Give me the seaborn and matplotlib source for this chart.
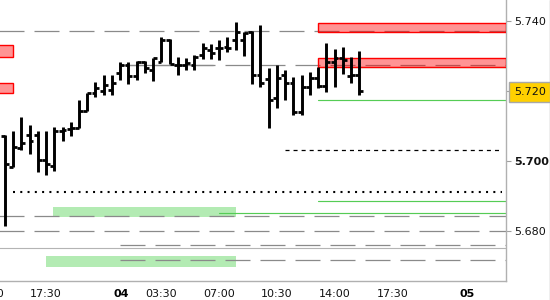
import matplotlib
matplotlib.use("Agg")
import matplotlib.pyplot as plt
import seaborn as sns
import pandas as pd
from matplotlib.patches import Rectangle
from matplotlib.lines import Line2D

# ---- data: half-hour bar slots (0 = 17:30 on the 3rd) ----
slots = list(range(-5, 39))
opens = [5.7071, 5.6983, 5.7036, 5.7074, 5.7074, 5.7003, 5.6985, 5.7086, 5.7091, 5.7094,
         5.7144, 5.7194, 5.7200, 5.7203, 5.7251, 5.7275, 5.7244, 5.7284, 5.7260, 5.7284,
         5.7346, 5.7275, 5.7275, 5.7275, 5.7303, 5.7318, 5.7323, 5.7327, 5.7346, 5.7346,
         5.7369, 5.7246, 5.7235, 5.7180, 5.7246, 5.7222, 5.7141, 5.7213, 5.7238, 5.7215,
         5.7284, 5.7296, 5.7243, 5.7246]
highs = [5.7074, 5.7086, 5.7125, 5.7103, 5.7086, 5.7086, 5.7098, 5.7096, 5.7112, 5.7175,
         5.7195, 5.7227, 5.7246, 5.7246, 5.7284, 5.7284, 5.7286, 5.7286, 5.7296, 5.7354,
         5.7348, 5.7299, 5.7295, 5.7303, 5.7337, 5.7335, 5.7346, 5.7356, 5.7398, 5.7369,
         5.7372, 5.7389, 5.7265, 5.7275, 5.7260, 5.7240, 5.7246, 5.7255, 5.7270, 5.7337,
         5.7321, 5.7326, 5.7299, 5.7315]
lows = [5.6814, 5.6982, 5.7031, 5.7020, 5.6969, 5.6960, 5.6971, 5.7058, 5.7071, 5.7093,
        5.7144, 5.7184, 5.7189, 5.7189, 5.7232, 5.7220, 5.7232, 5.7251, 5.7230, 5.7284,
        5.7278, 5.7246, 5.7260, 5.7260, 5.7292, 5.7292, 5.7289, 5.7313, 5.7318, 5.7300,
        5.7220, 5.7212, 5.7093, 5.7151, 5.7175, 5.7132, 5.7132, 5.7190, 5.7210, 5.7197,
        5.7213, 5.7249, 5.7223, 5.7190]
closes = [5.6991, 5.7041, 5.7052, 5.7058, 5.7003, 5.6991, 5.7086, 5.7089, 5.7094, 5.7144,
          5.7194, 5.7209, 5.7218, 5.7222, 5.7275, 5.7244, 5.7284, 5.7265, 5.7294, 5.7346,
          5.7278, 5.7275, 5.7281, 5.7299, 5.7323, 5.7309, 5.7323, 5.7323, 5.7368, 5.7366,
          5.7246, 5.7224, 5.7175, 5.7238, 5.7222, 5.7141, 5.7213, 5.7238, 5.7215, 5.7284,
          5.7296, 5.7289, 5.7246, 5.7200]

tick_pos = [-7, 0, 7, 14, 21, 28, 35, 42, 49]
tick_labels = ["14:00", "17:30", "", "03:30", "07:00", "10:30", "14:00", "17:30", ""]
day_pos = [9.1, 51.1]
day_labels = ["04", "05"]
price_ticks = [5.680, 5.700, 5.720, 5.740]
price_labels = ["5.680", "5.700", "5.720", "5.740"]
last_price = 5.720

# horizontal levels
gray_full_levels = [5.7371, 5.6841, 5.6800]
gray_mid_levels = [5.7274, 5.6758, 5.6716]
gray_mid_start = 9
gray_solid_level = 5.6750
gray_solid_seg = (5.7274, 9, 20.3)
green_levels = [5.7268, 5.7175, 5.6885, 5.6851]
green_starts = [33, 33, 33, 21]
black_dash_level, black_dash_start, black_dash_end = 5.7031, 29, 55.3
black_dot_level, black_dot_start, black_dot_end = 5.6912, -4, 55.3

red_lo = [5.7370, 5.7270, 5.7299, 5.7194]
red_hi = [5.7394, 5.7294, 5.7332, 5.7222]
red_x0 = [33, 33, -8, -8]
red_x1 = [55.75, 55.75, -4, -4]

green_lo = [5.6840, 5.6697]
green_hi = [5.6869, 5.6728]
green_x0 = [0.85, 0.0]
green_x1 = [23, 23]

# ---- style ----
sns.set_theme(style="white")
plt.rcParams['font.family'] = ['DejaVu Sans']
plt.rcParams['lines.scale_dashes'] = False

fig = plt.figure(figsize=(5.5, 3.0), dpi=100)
ax = fig.add_axes([-11.7 / 550, 19.3 / 300, 517.4 / 550, 280.7 / 300])
XL = (-7.0, 55.75)
ax.set_xlim(*XL)
ax.set_ylim(5.66567, 5.74610)

df = pd.DataFrame(dict(slot=slots, open=opens, high=highs, low=lows, close=closes))

# green zones
for x0, x1, lo, hi in zip(green_x0, green_x1, green_lo, green_hi):
    ax.add_patch(Rectangle((x0, lo), x1 - x0, hi - lo, facecolor='#b3ebb3',
                           edgecolor='none', zorder=1))

# gray dashed levels
dash = (0, (18, 7.2))
for y in gray_full_levels:
    ax.plot([-7.6, XL[1]], [y, y], color='#8a8a8a', lw=0.9, ls=dash, zorder=2)
for y in gray_mid_levels:
    ax.plot([gray_mid_start, XL[1]], [y, y], color='#8a8a8a', lw=0.9, ls=dash, zorder=2)
ax.plot([gray_solid_seg[1], gray_solid_seg[2]], [gray_solid_seg[0]] * 2,
        color='#8a8a8a', lw=0.9, zorder=2)
ax.plot([XL[0], XL[1]], [gray_solid_level] * 2, color='#b4b4b4', lw=0.8, zorder=2)

# green levels
for y, x0 in zip(green_levels, green_starts):
    ax.plot([x0, XL[1]], [y, y], color='#55cc55', lw=0.85, zorder=2)

# black dashed / dotted
ax.plot([black_dash_start, black_dash_end], [black_dash_level] * 2, color='black',
        lw=0.9, ls=(0, (2.9, 2.9)), zorder=2)
ax.plot([black_dot_start, black_dot_end], [black_dot_level] * 2, color='black',
        lw=1.5, ls=(0, (1.44, 3.8)), zorder=2, solid_capstyle='butt',
        dash_capstyle='butt')

# red zones
for x0, x1, lo, hi in zip(red_x0, red_x1, red_lo, red_hi):
    ax.add_patch(Rectangle((x0, lo), x1 - x0, hi - lo, facecolor=(1, 0, 0, 0.42),
                           edgecolor='#ff0000', lw=1.0, zorder=3))

# OHLC bars
ax.vlines(df.slot, df.low, df.high, colors='black', lw=2.1, capstyle='butt', zorder=5)
ax.hlines(df.open, df.slot - 0.47, df.slot, colors='black', lw=2.0, capstyle='butt', zorder=5)
ax.hlines(df.close, df.slot, df.slot + 0.47, colors='black', lw=2.0, capstyle='butt', zorder=5)

# axes look
for s in ['top', 'left']:
    ax.spines[s].set_visible(False)
for s in ['right', 'bottom']:
    ax.spines[s].set_color('#b0b0b0')
    ax.spines[s].set_linewidth(1.0)
ax.yaxis.tick_right()
ax.set_yticks(price_ticks)
ax.set_yticklabels(price_labels)
ax.tick_params(axis='y', which='major', direction='out', length=3.6, width=0.8,
               color='#a0a0a0', pad=2.6, labelsize=8, labelcolor='#111111',
               right=True, left=False, labelright=True, labelleft=False)
ax.set_xticks(tick_pos)
ax.set_xticklabels(tick_labels)
ax.tick_params(axis='x', which='major', direction='out', length=3, width=0.8,
               color='#a0a0a0', pad=3, labelsize=8, labelcolor='#111111')
ax.set_xticks(day_pos, minor=True)
ax.set_xticklabels(day_labels, minor=True, fontweight='bold')
ax.tick_params(axis='x', which='minor', length=0, pad=6, labelsize=8, labelcolor='black')
ax.grid(False)

ticks = ax.yaxis.get_major_ticks()
idx = price_ticks.index(last_price)
ticks[idx].tick2line.set_color('black')
ticks[idx].label2.set_bbox(dict(boxstyle='square,pad=0.45', facecolor='#ffd000',
                                edgecolor='#a8a8a8', lw=1.0))
ticks[price_ticks.index(5.700)].label2.set_fontweight('bold')

fig.add_artist(Line2D([549.5 / 550] * 2, [0, 1], transform=fig.transFigure,
                      color='#b0b0b0', lw=1.0))

fig.savefig("out.png", dpi=100)
